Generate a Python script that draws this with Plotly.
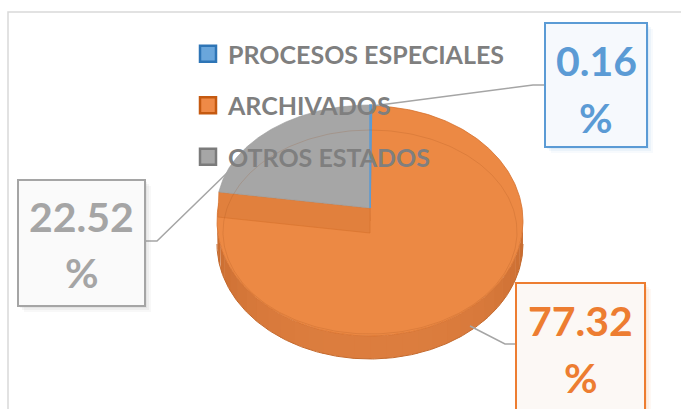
import numpy as np
import plotly.graph_objects as go

# ---------------- data ----------------
categories = ["PROCESOS ESPECIALES", "ARCHIVADOS", "OTROS ESTADOS"]
values = [0.16, 77.32, 22.52]
slice_colors = ["#5B9BD5", "#EC8944", "#A6A6A6"]
legend_fill = ["#6AA6DB", "#EF8A47", "#A6A6A6"]
legend_line = ["#2E75B6", "#C55A11", "#7B7B7B"]
label_colors = ["#5B9BD5", "#ED7D31", "#A5A5A5"]
label_fills = ["#F6F9FD", "#FCF8F5", "#FAFAFA"]

W, H = 681, 409
FONT = "Lato"

# ---------------- geometry (style) ----------------
CX, CY, RX, RY, DEPTH = 370, 221, 153, 115, 23
VG = (370, 208)   # vertex of the raised (grey) face
RYG = 103         # vertical radius of the raised face
VO = (370, 233)   # vertex of the lower orange face

def ell(t_deg, cy=CY, ry=RY):
    t = np.radians(t_deg)
    return CX + RX * np.sin(t), cy - ry * np.cos(t)

def arc(t0, t1, cy=CY, ry=RY, n=None):
    if n is None:
        n = max(4, int(abs(t1 - t0) * 1.5))
    t = np.linspace(t0, t1, n)
    return ell(t, cy, ry)

total = sum(values)
bounds = np.concatenate([[0], np.cumsum(values)]) / total * 360.0

fig = go.Figure()

def poly(xs, ys, fill, line_color=None, line_width=0):
    fig.add_trace(go.Scatter(
        x=list(xs), y=list(ys), mode="lines", fill="toself",
        fillcolor=fill,
        line=dict(color=line_color or fill, width=line_width),
        hoverinfo="skip", showlegend=False))

# ---- front wall (shaded strips) ----
nstrip = 30
edges = np.linspace(90, 270, nstrip + 1)
dark = np.array([0xBE, 0x62, 0x27])
light = np.array([0xDD, 0x7E, 0x3F])
for a0, a1 in zip(edges[:-1], edges[1:]):
    mid = np.radians((a0 + a1) / 2)
    k = abs(np.cos(mid)) ** 0.5
    c = dark + (light - dark) * k
    col = "rgb(%d,%d,%d)" % tuple(c.astype(int))
    xt, yt = arc(a0 - 0.3, a1 + 0.3, n=6)
    xb, yb = arc(a1 + 0.3, a0 - 0.3, cy=CY + DEPTH, n=6)
    poly(np.r_[xt, xb], np.r_[yt, yb], col, line_width=0)
xb, yb = arc(90, 270, cy=CY + DEPTH)
fig.add_trace(go.Scatter(x=xb, y=yb, mode="lines",
                         line=dict(color="#C46A2E", width=1),
                         hoverinfo="skip", showlegend=False))

# ---- slice 1 : ARCHIVADOS (top face) ----
xa, ya = arc(bounds[1], bounds[2])
poly(np.r_[CX, xa, CX], np.r_[CY, ya, CY], slice_colors[1],
     line_color="#D5702C", line_width=0.8)

# ---- radial face of orange under the raised grey slice ----
px, py = ell(bounds[2], cy=VG[1], ry=RYG)
poly([VG[0], px, px - 1, VO[0], VG[0]],
     [VG[1], py, py + 25, VO[1], VG[1]], "#E1803D",
     line_color="#D5702C", line_width=0.6)

# ---- slice 0 : PROCESOS ESPECIALES (thin) ----
xp, yp = arc(bounds[0], bounds[1], cy=VG[1], ry=RYG, n=4)
poly(np.r_[VG[0], xp, VG[0]], np.r_[VG[1], yp, VG[1]], slice_colors[0],
     line_color=slice_colors[0], line_width=1.6)

# ---- slice 2 : OTROS ESTADOS ----
xg, yg = arc(bounds[2], bounds[3], cy=VG[1], ry=RYG)
poly(np.r_[VG[0], xg, VG[0]], np.r_[VG[1], yg, VG[1]], slice_colors[2],
     line_color="#9A9A9A", line_width=0.6)
fig.add_trace(go.Scatter(x=[VG[0], VG[0]], y=[VG[1], VG[1] - RYG],
                         mode="lines", line=dict(color="#5B9BD5", width=1.4),
                         hoverinfo="skip", showlegend=False))

# ---- faint bevel ring ----
tt = np.linspace(0, 360, 300)
bx = CX + (RX - 6) * np.sin(np.radians(tt))
by = CY + 11 - (RY - 13) * np.cos(np.radians(tt))
fig.add_trace(go.Scatter(x=bx, y=by, mode="lines",
                         line=dict(color="rgba(150,70,20,0.18)", width=1),
                         hoverinfo="skip", showlegend=False))

# ---- leader lines ----
leaders = [
    ([372, 533, 545], [106, 85, 85]),
    ([470, 505, 516], [326, 344, 344]),
    ([228, 157, 145], [172, 241, 241]),
]
for lx, ly in leaders:
    fig.add_trace(go.Scatter(x=lx, y=ly, mode="lines",
                             line=dict(color="#A5A5A5", width=1.5),
                             hoverinfo="skip", showlegend=False))

# ---- legend entries ----
for i, name in enumerate(categories):
    fig.add_trace(go.Scatter(
        x=[None], y=[None], mode="markers", name=name,
        legendgroup=name,
        marker=dict(symbol="square", size=16, color=legend_fill[i],
                    line=dict(color=legend_line[i], width=2.5))))

# ---- label boxes ----
boxes = [  # x0, y0, x1, y1, number-y, percent-y
    (545, 23, 647, 147, 60, 117),
    (516, 283, 645, 420, 320, 377),
    (18, 180, 145, 306, 216, 272),
]
shadow_rgb = ["91,155,213", "237,125,49", "120,120,120"]
shapes = []
annotations = []
for i, (x0, y0, x1, y1, ty1, ty2) in enumerate(boxes):
    for off, a in [(6, 0.05), (4, 0.07), (2, 0.09)]:
        shapes.append(dict(type="rect", xref="x", yref="y",
                           x0=x0 + off, y0=y0 + off, x1=x1 + off, y1=y1 + off,
                           line=dict(width=0),
                           fillcolor="rgba(%s,%.2f)" % (shadow_rgb[i], a)))
    shapes.append(dict(type="rect", xref="x", yref="y",
                       x0=x0, y0=y0, x1=x1, y1=y1,
                       line=dict(color=label_colors[i], width=2),
                       fillcolor=label_fills[i]))
    annotations.append(dict(x=(x0 + x1) / 2, y=ty1, xref="x", yref="y",
                            text="%.2f" % values[i], showarrow=False,
                            font=dict(family=FONT, size=41, color=label_colors[i],
                                      weight="bold")))
    annotations.append(dict(x=(x0 + x1) / 2, y=ty2, xref="x", yref="y",
                            text="%", showarrow=False,
                            font=dict(family=FONT, size=41, color=label_colors[i],
                                      weight="bold")))

# chart area border
shapes.append(dict(type="rect", xref="x", yref="y", x0=8, y0=12, x1=W + 5, y1=H + 5,
                   line=dict(color="#D9D9D9", width=1.5), layer="below"))

fig.update_layout(
    width=W, height=H,
    margin=dict(l=0, r=0, t=0, b=0),
    paper_bgcolor="white", plot_bgcolor="white",
    xaxis=dict(range=[0, W], visible=False, fixedrange=True),
    yaxis=dict(range=[H, 0], visible=False, fixedrange=True),
    shapes=shapes,
    annotations=annotations,
    showlegend=True,
    legend=dict(x=188 / W, y=1 - 31 / H, xanchor="left", yanchor="top",
                bgcolor="rgba(0,0,0,0)", borderwidth=0,
                font=dict(family=FONT, size=25, color="#7F7F7F", weight="bold"),
                tracegroupgap=16, itemsizing="trace"),
)

fig.write_html("out.html")
